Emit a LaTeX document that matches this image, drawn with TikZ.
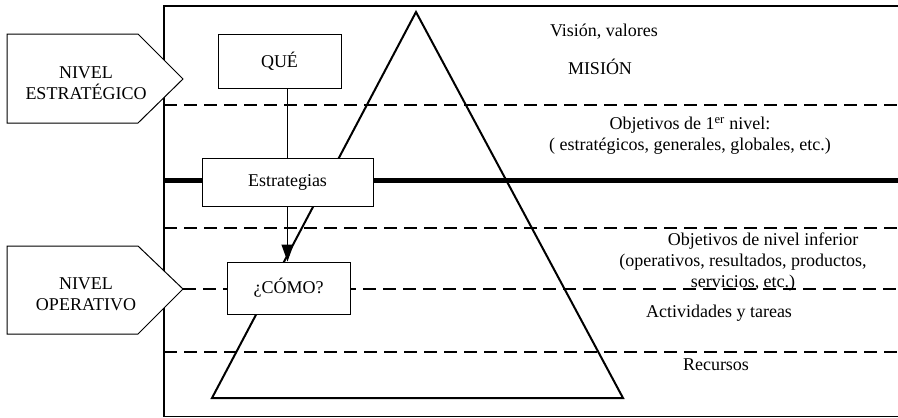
\documentclass[tikz,border=0pt]{standalone}
\usepackage{fontspec}
\setmainfont{Liberation Serif}
\usetikzlibrary{arrows.meta, positioning}

\begin{document}
\begin{tikzpicture}[x=1pt, y=-1pt, font=\fontsize{18}{21}\selectfont,
   box/.style={draw, fill=white, line width=1pt, inner sep=0pt},
   lvl/.style={draw, fill=white, line width=1pt},
   sep/.style={dash pattern=on 13pt off 7pt, line width=1.2pt},
   lbl/.style={align=center, inner sep=0pt}]
  \useasboundingbox (0,0) rectangle (898,418);
  % frame, open at the right
  \draw[line width=1.5pt] (898,6) -- (164,6) -- (164,416.5) -- (898,416.5);
  % separators between the levels
  \draw[sep] (164,105) -- (898,105);
  \draw[sep] (164,228) -- (898,228);
  \draw[sep] (164,352) -- (898,352);
  \coordinate (optip) at (183,289);
  \draw[sep] (optip) -- (898,289);
  \draw[line width=5pt] (164,180) -- (898,180);
  % pyramid
  \draw[line width=2pt, line join=miter] (416,12) -- (623,398) -- (212,398) -- cycle;
  % level tags
  \draw[lvl] (7,34) -- (138,34) -- (183,79) -- (138,123) -- (7,123) -- cycle;
  \node[lbl] (estr) at (86,83) {NIVEL\\ESTRATÉGICO};
  \draw[lvl] (7,246) -- (138,246) -- (optip) -- (138,334) -- (7,334) -- cycle;
  \node[lbl] (oper) at (86,294) {NIVEL\\OPERATIVO};
  % what / how
  \node[box, minimum width=123pt, minimum height=54pt] (que) at (279.5,61) {QUÉ};
  \node[box, minimum width=171pt, minimum height=48pt] (est) at (287.5,182) {Estrategias};
  \node[box, minimum width=123pt, minimum height=52pt] (como) at (288.5,288) {¿CÓMO?};
  \draw[line width=1pt] (est.north |- que.south) -- (est.north);
  \draw[line width=1pt, -{Triangle[length=17pt, width=12pt]}] (est.south) -- (est.south |- como.north);
  % contents of each level
  \node[lbl] (vision) at (604,32) {Visión, valores};
  \node[lbl] (mision) at (600,67) {MISIÓN};
  \node[lbl] (obj1) at (690,136) {Objetivos de 1\textsuperscript{er} nivel:\\( estratégicos, generales, globales, etc.)};
  \node[lbl] (objinf) at (743,262) {\hspace*{40pt}Objetivos de nivel inferior\\(operativos, resultados, productos,\\servicios, etc.)};
  \node[lbl] (activ) at (719,313) {Actividades y tareas};
  \node[lbl] (recur) at (716,365) {Recursos};
\end{tikzpicture}
\end{document}
